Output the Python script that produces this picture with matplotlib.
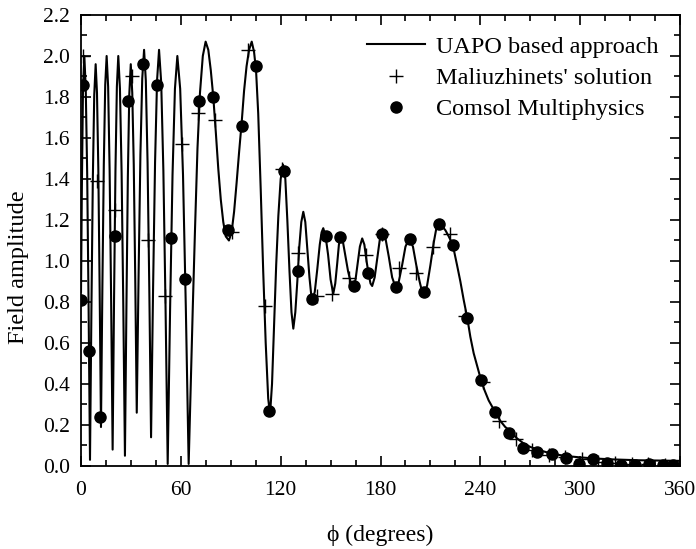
import matplotlib
matplotlib.use("Agg")
import matplotlib.pyplot as plt
from matplotlib.ticker import MultipleLocator, FormatStrFormatter

plt.rcParams['font.family'] = ['Liberation Serif', 'DejaVu Serif']

# UAPO based approach (line)
uapo_phi = [0, 0.5, 1.2, 2.0, 2.85, 3.7, 4.55, 5.4, 6.25, 7.1, 7.95, 8.8, 9.6, 10.4, 11.2, 12.0,
            12.85, 13.7, 14.55, 15.4, 16.3, 17.2, 18.1, 19.0, 19.85, 20.7, 21.55, 22.4, 23.4, 24.4,
            25.4, 26.4, 27.3, 28.15, 29.0, 29.9, 30.8, 31.7, 32.6, 33.5, 34.6, 35.7, 36.8, 37.9,
            38.95, 40.0, 41.05, 42.1, 43.3, 44.5, 45.7, 46.9, 48.2, 49.5, 50.8, 52.1, 53.55, 55.0,
            56.45, 57.9, 59.6, 61.3, 63.0, 64.7,
            66.0, 67.2, 68.5, 70.0, 71.5, 73.2, 74.9, 76.5, 78.0, 79.5, 81.0, 82.5, 84.0, 85.5,
            87.0, 88.9, 90.5, 92.0, 93.5, 95.0, 96.6, 98.0, 99.5, 101.0, 102.6, 104.0, 105.2,
            106.5, 108.0, 109.5, 111.0, 112.5, 113.6, 114.8, 116.0, 117.3, 118.6, 120.0, 121.4,
            122.8, 124.0, 125.3, 126.5, 127.6, 128.8, 130.0, 131.2, 132.4, 133.6, 134.8, 136.0,
            137.3, 138.3, 139.2, 140.5, 142.0, 143.5, 144.6, 145.6, 147.0, 148.5, 150.0, 151.6,
            152.8, 154.0, 155.0, 156.0, 157.5, 159.0, 160.5, 162.0, 163.8, 165.0, 166.3, 167.6,
            169.0, 170.3, 171.6, 173.0, 174.0, 175.0, 176.5, 178.0, 179.5, 181.0, 183.0, 185.0,
            187.0, 189.3, 191.0, 193.0, 195.0, 197.2, 199.5, 201.5, 203.5, 205.0, 206.3, 208.0,
            210.0, 212.0, 213.8, 215.2, 217.0, 219.0, 221.0, 223.4, 226.0, 228.0, 230.0, 232.2,
            234.0, 236.0, 238.0, 240.4, 242.5, 245.0, 248.8, 252.0, 255.0, 257.4, 262.0, 266.0,
            270.0, 275.0, 283.0, 291.0, 300.0, 310.0, 320.0, 335.0, 360.0]
uapo_amp = [0.85, 1.35, 1.85, 2.00, 1.84, 1.43, 0.78, 0.03, 0.76, 1.40, 1.81, 1.96, 1.82, 1.45, 0.86, 0.19,
            0.88, 1.47, 1.86, 2.00, 1.85, 1.44, 0.81, 0.08, 0.81, 1.44, 1.85, 2.00, 1.84, 1.43,
            0.79, 0.05, 0.78, 1.41, 1.81, 1.96, 1.82, 1.47, 0.91, 0.26, 0.93, 1.52, 1.89, 2.03,
            1.88, 1.48, 0.86, 0.14, 0.86, 1.48, 1.88, 2.03, 1.87, 1.44, 0.78, 0.01, 0.77, 1.42,
            1.84, 2.00, 1.84, 1.42, 0.77, 0.01,
            0.42, 0.78, 1.15, 1.55, 1.82, 2.00, 2.07, 2.03, 1.93, 1.80, 1.63, 1.45, 1.30, 1.19,
            1.12, 1.10, 1.14, 1.24, 1.38, 1.53, 1.68, 1.83, 1.95, 2.03, 2.07, 2.02, 1.93,
            1.72, 1.35, 0.95, 0.60, 0.33, 0.25, 0.40, 0.68, 0.98, 1.22, 1.40, 1.47,
            1.40, 1.20, 0.95, 0.75, 0.67, 0.75, 0.90, 1.07, 1.19, 1.24, 1.19, 1.06,
            0.92, 0.84, 0.81, 0.85, 0.96, 1.08, 1.14, 1.16, 1.12, 1.03, 0.91, 0.84,
            0.89, 0.99, 1.08, 1.12, 1.09, 1.02, 0.95, 0.90, 0.875, 0.91, 0.99, 1.07,
            1.11, 1.08, 1.00, 0.93, 0.89, 0.878, 0.92, 1.01, 1.10, 1.14, 1.11, 1.02,
            0.92, 0.867, 0.90, 0.98, 1.07, 1.11, 1.07, 0.98, 0.90, 0.85, 0.84, 0.88,
            0.98, 1.09, 1.17, 1.19, 1.17, 1.15, 1.12, 1.08, 0.98, 0.90, 0.81, 0.72,
            0.63, 0.55, 0.49, 0.42, 0.37, 0.32, 0.265, 0.22, 0.19, 0.175, 0.135, 0.11,
            0.093, 0.078, 0.06, 0.049, 0.042, 0.036, 0.032, 0.028, 0.025]

# Maliuzhinets' solution (+)
mal_phi = [1.0, 9.4, 20.4, 30.4, 40.5, 50.5, 60.5, 70.5, 80.5, 90.5, 100.5, 110.6, 120.6, 130.6,
           141.6, 151.0, 161.0, 171.0, 181.0, 191.0, 201.3, 211.3, 221.5, 231.0, 241.8, 251.4,
           261.4, 270.8, 281.5, 291.0, 301.0, 311.0, 321.0, 331.0, 341.0, 351.0]
mal_amp = [2.00, 1.39, 1.25, 1.90, 1.10, 0.83, 1.57, 1.72, 1.69, 1.14, 2.03, 0.78, 1.45, 1.04,
           0.83, 0.84, 0.915, 1.03, 1.13, 0.967, 0.94, 1.07, 1.13, 0.73, 0.41, 0.22,
           0.13, 0.08, 0.055, 0.045, 0.033, 0.02, 0.015, 0.01, 0.01, 0.005]

# Comsol Multiphysics (dots)
com_phi = [0.0, 1.2, 4.8, 11.4, 20.4, 28.2, 37.3, 45.7, 54.1, 62.5, 71.1, 79.5, 88.5, 96.6, 105.2,
           113.2, 122.0, 130.6, 139.0, 147.2, 155.8, 164.0, 172.7, 181.0, 189.3, 197.7, 206.3,
           215.0, 223.4, 232.2, 240.4, 248.8, 257.4, 265.8, 274.2, 282.9, 291.3, 299.5, 307.9,
           316.3, 324.5, 333.0, 341.5, 350.0, 356.0]
com_amp = [0.81, 1.86, 0.56, 0.24, 1.12, 1.78, 1.96, 1.86, 1.11, 0.91, 1.78, 1.80, 1.15, 1.66, 1.95,
           0.27, 1.44, 0.95, 0.815, 1.12, 1.115, 0.88, 0.94, 1.13, 0.875, 1.106, 0.847,
           1.18, 1.08, 0.72, 0.42, 0.265, 0.16, 0.086, 0.07, 0.058, 0.037, 0.01, 0.033,
           0.013, 0.005, 0.005, 0.008, 0.005, 0.005]

fig = plt.figure(figsize=(6.96, 5.49), dpi=100)
ax = fig.add_axes([0.1164, 0.1512, 0.8606, 0.8215])

ax.plot(uapo_phi, uapo_amp, color='black', lw=1.5, label='UAPO based approach', zorder=2)
ax.plot(mal_phi, mal_amp, ls='none', marker='+', ms=10, mew=1.0, color='black',
        label="Maliuzhinets' solution", zorder=3)
ax.plot(com_phi, com_amp, ls='none', marker='o', ms=8, color='black',
        label='Comsol Multiphysics', zorder=4)

ax.set_xlim(0, 360)
ax.set_ylim(0, 2.2)
ax.xaxis.set_major_locator(MultipleLocator(60))
ax.xaxis.set_minor_locator(MultipleLocator(15))
ax.yaxis.set_major_locator(MultipleLocator(0.2))
ax.yaxis.set_minor_locator(MultipleLocator(0.1))
ax.yaxis.set_major_formatter(FormatStrFormatter('%.1f'))
ax.tick_params(which='both', direction='in', top=True, right=True, labelsize=15.5, width=1.2)
ax.tick_params(which='major', length=7)
ax.tick_params(which='minor', length=4)
ax.tick_params(axis='x', which='major', pad=11)
ax.tick_params(axis='y', which='major', pad=8)
for s in ax.spines.values():
    s.set_linewidth(1.3)

ax.set_xlabel('\u03d5 (degrees)', fontsize=17, labelpad=18)
ax.set_ylabel('Field amplitude', fontsize=17.5)
ax.yaxis.set_label_coords(-0.087, 0.44)

leg = ax.legend(loc='upper right', frameon=False, fontsize=17.5, handlelength=2.4,
                handletextpad=0.45, borderaxespad=0.0, labelspacing=0.38,
                bbox_to_anchor=(0.98, 0.975))

fig.savefig('out.png', dpi=100)
